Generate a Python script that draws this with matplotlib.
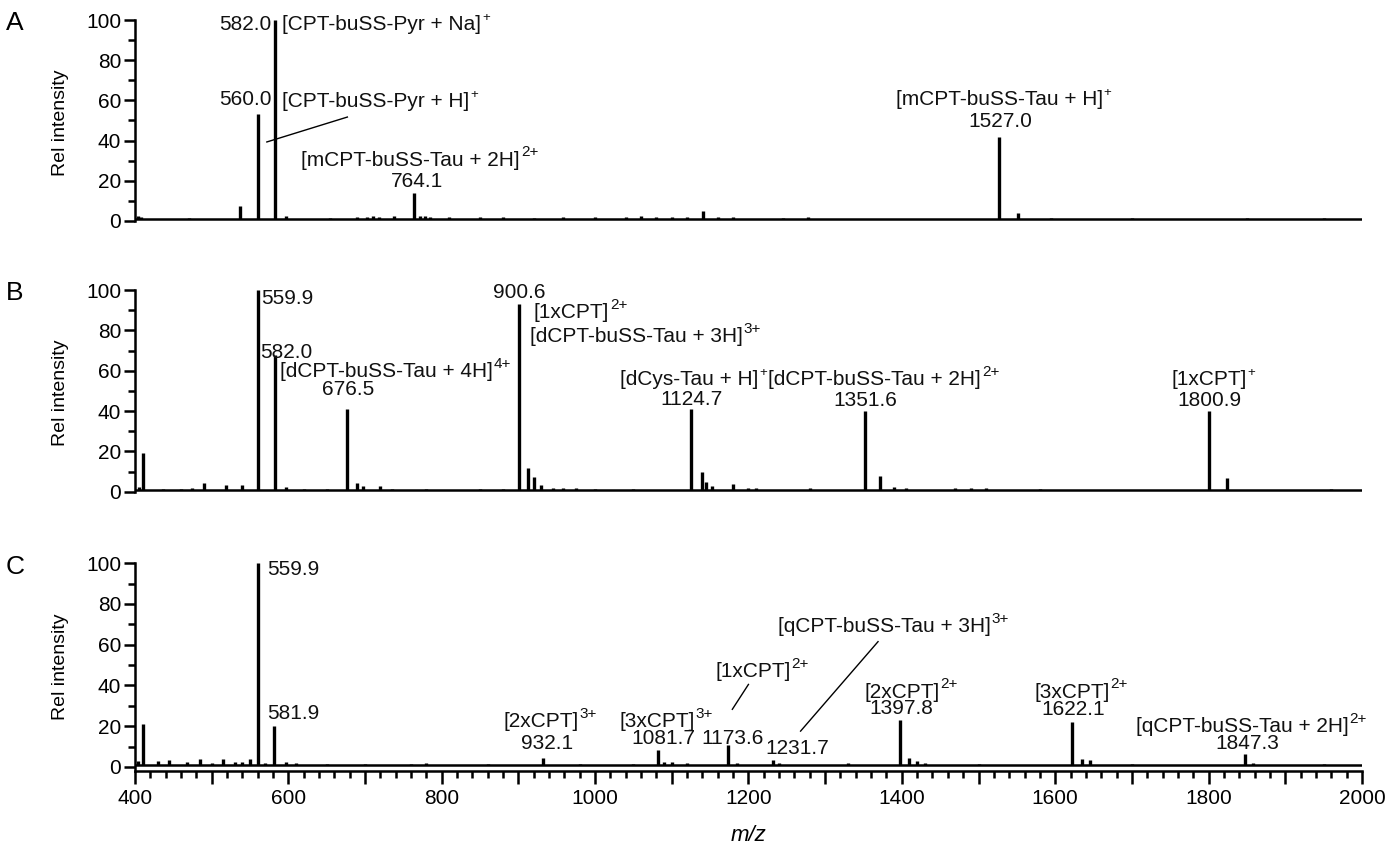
import matplotlib
matplotlib.use('Agg')
import matplotlib.pyplot as plt
from matplotlib.ticker import MultipleLocator, FuncFormatter

plt.rcParams['font.family'] = ['Liberation Sans', 'DejaVu Sans']

# ---------------- data ----------------
mz_range = [400, 2000]
baseline_level = 1.0

mz_A = [404, 408, 470, 537, 560.0, 582.0, 597, 655, 690, 702, 710, 718, 738, 764.1, 772, 778,
        785, 810, 850, 880, 920, 958, 1000, 1040, 1060, 1080, 1100, 1120, 1141, 1160, 1180,
        1245, 1278, 1527.0, 1552, 1595, 1700, 1850, 1950]
int_A = [2.5, 2.0, 1.5, 7.5, 53, 100, 2.5, 1.5, 1.8, 1.8, 2.5, 2.0, 2.5, 14, 2.5, 2.5,
         2.0, 1.8, 1.8, 1.8, 1.6, 1.8, 1.7, 1.8, 2.2, 1.8, 1.8, 1.8, 5.0, 2.0, 1.8,
         1.6, 2.0, 42, 4.0, 1.6, 1.4, 1.4, 1.4]

mz_B = [405, 410, 437, 460, 475, 490, 519, 540, 559.9, 582.0, 597, 620, 650, 676.5, 690, 697,
        719, 735, 780, 850, 880, 900.6, 912, 920, 930, 945, 958, 975, 1000, 1050, 1124.7,
        1140, 1145, 1152, 1180, 1200, 1210, 1280, 1351.6, 1372, 1390, 1405, 1470, 1490, 1510,
        1580, 1800.9, 1824, 1960]
int_B = [2.5, 19, 1.5, 1.5, 1.8, 4.5, 3.5, 3.5, 100, 68, 2.5, 1.5, 1.5, 41, 4.5, 3.0,
         3.0, 1.5, 1.5, 1.4, 1.6, 93, 12, 7.5, 3.5, 1.8, 2.0, 1.8, 1.5, 1.5, 41,
         10, 5, 3, 4, 1.8, 2.0, 1.8, 40, 8, 2.5, 2.0, 1.8, 2.0, 1.8,
         1.5, 40, 7, 1.5]

mz_C = [404, 410, 430, 445, 468, 485, 500, 515, 530, 540, 550, 559.9, 570, 581.9, 597, 610,
        650, 700, 760, 780, 860, 932.1, 980, 1050, 1081.7, 1090, 1100, 1120, 1173.6, 1185,
        1231.7, 1240, 1330, 1397.8, 1410, 1420, 1430, 1500, 1622.1, 1635, 1645, 1700,
        1847.3, 1858, 1950]
int_C = [3, 21, 3, 3.5, 2.5, 4, 2, 4, 2.5, 2.5, 4, 100, 2, 20, 2.5, 1.8,
         1.6, 1.6, 1.6, 1.8, 1.6, 4.5, 1.6, 1.6, 8.5, 2.5, 2.5, 1.8, 11, 2,
         3.5, 1.8, 2, 23, 4.5, 3, 2, 1.6, 22, 4, 3.5, 1.6,
         6.5, 2, 1.5]

# annotations: (text, superscript, mz, y, ha)
ann_A = [
    ('582.0', '', 578, 95, 'right'),
    ('[CPT-buSS-Pyr + Na]', '+', 592, 95, 'left'),
    ('560.0', '', 578, 57.7, 'right'),
    ('[CPT-buSS-Pyr + H]', '+', 592, 56.5, 'left'),
    ('[mCPT-buSS-Tau + 2H]', '2+', 617, 27.5, 'left'),
    ('764.1', '', 768, 17, 'center'),
    ('[mCPT-buSS-Tau + H]', '+', 1527, 57.7, 'center'),
    ('1527.0', '', 1529, 46.5, 'center'),
]
lines_A = [((572, 677), (39.3, 51.7))]

ann_B = [
    ('559.9', '', 565, 93, 'left'),
    ('582.0', '', 563, 66.5, 'left'),
    ('[dCPT-buSS-Tau + 4H]', '4+', 589, 56.7, 'left'),
    ('676.5', '', 678, 47.8, 'center'),
    ('900.6', '', 901, 96, 'center'),
    ('[1xCPT]', '2+', 920, 86, 'left'),
    ('[dCPT-buSS-Tau + 3H]', '3+', 915, 74, 'left'),
    ('[dCys-Tau + H]', '+', 1033, 53, 'left'),
    ('1124.7', '', 1126, 43, 'center'),
    ('[dCPT-buSS-Tau + 2H]', '2+', 1226, 53, 'left'),
    ('1351.6', '', 1352, 42.5, 'center'),
    ('[1xCPT]', '+', 1801, 53, 'center'),
    ('1800.9', '', 1801, 42.5, 'center'),
]
lines_B = []

ann_C = [
    ('559.9', '', 573, 94, 'left'),
    ('581.9', '', 573, 23.4, 'left'),
    ('[2xCPT]', '3+', 930, 19.5, 'center'),
    ('932.1', '', 937, 8.8, 'center'),
    ('[3xCPT]', '3+', 1081, 19.5, 'center'),
    ('1081.7', '', 1089, 11.2, 'center'),
    ('[1xCPT]', '2+', 1206, 44, 'center'),
    ('1173.6', '', 1179, 11.5, 'center'),
    ('1231.7', '', 1264, 6.3, 'center'),
    ('[qCPT-buSS-Tau + 3H]', '3+', 1238, 66, 'left'),
    ('[2xCPT]', '2+', 1400, 34, 'center'),
    ('1397.8', '', 1399, 25.9, 'center'),
    ('[3xCPT]', '2+', 1622, 34, 'center'),
    ('1622.1', '', 1623, 25.5, 'center'),
    ('[qCPT-buSS-Tau + 2H]', '2+', 1705, 17, 'left'),
    ('1847.3', '', 1850, 8.8, 'center'),
]
lines_C = [((1179, 1200), (28.3, 40.5)), ((1268, 1369), (17.6, 61.5))]

panels = [
    ('A', mz_A, int_A, ann_A, lines_A, [0.0968, 0.736, 0.8802, 0.2405]),
    ('B', mz_B, int_B, ann_B, lines_B, [0.0968, 0.418, 0.8802, 0.2416]),
    ('C', mz_C, int_C, ann_C, lines_C, [0.0968, 0.095, 0.8802, 0.244]),
]

fig = plt.figure(figsize=(13.94, 8.52), dpi=100)
FS = 15
SFS = 11
TXT = '#111111'

for i, (letter, mz, inten, ann, lns, pos) in enumerate(panels):
    ax = fig.add_axes(pos)
    ax.set_xlim(*mz_range)
    ax.set_ylim(-2, 100)
    # baseline and stick peaks
    ax.plot(mz_range, [baseline_level, baseline_level], color='black', lw=1.8,
            solid_capstyle='butt', zorder=2)
    ax.vlines(mz, baseline_level, inten, color='black', lw=2.4, zorder=3)
    for txt, sup, x, y, ha in ann:
        t = ax.text(x, y, txt, ha=ha, va='baseline', fontsize=FS, color=TXT,
                    clip_on=False)
        if sup:
            ax.annotate(sup, xy=(1, 0), xycoords=t, xytext=(0.6, 9.5),
                        textcoords='offset points', ha='left', va='baseline',
                        fontsize=SFS if sup != '+' else 9.5, color=TXT,
                        annotation_clip=False)
    for xs, ys in lns:
        ax.plot(xs, ys, color='black', lw=1.0, clip_on=False)

    for s in ['top', 'right']:
        ax.spines[s].set_visible(False)
    ax.spines['left'].set_linewidth(1.8)
    ax.yaxis.set_major_locator(MultipleLocator(20))
    ax.yaxis.set_minor_locator(MultipleLocator(10))
    ax.tick_params(axis='y', which='major', direction='out', length=8, width=1.8,
                   labelsize=FS, pad=2)
    ax.tick_params(axis='y', which='minor', direction='out', length=5, width=1.8)
    ax.set_ylabel('Rel intensity', fontsize=14)
    ax.yaxis.set_label_coords(-0.054, 0.5)
    if letter != 'C':
        ax.spines['bottom'].set_visible(False)
        ax.spines['left'].set_bounds(0, 100)
        ax.tick_params(axis='x', which='both', bottom=False, labelbottom=False)
    else:
        ax.spines['bottom'].set_linewidth(1.8)
        ax.xaxis.set_major_locator(MultipleLocator(100))
        ax.xaxis.set_minor_locator(MultipleLocator(20))
        ax.xaxis.set_major_formatter(FuncFormatter(
            lambda v, p: '%d' % v if int(round(v)) % 200 == 0 else ''))
        ax.tick_params(axis='x', which='major', direction='out', length=9, width=1.8,
                       labelsize=FS, pad=4)
        ax.tick_params(axis='x', which='minor', direction='out', length=5, width=1.8)
        ax.set_xlabel('m/z', fontsize=16, style='italic', labelpad=12)
    fig.text(0.004, pos[1] + pos[3] - 0.004, letter, fontsize=19, ha='left', va='center')

fig.savefig('out.png', dpi=100)
